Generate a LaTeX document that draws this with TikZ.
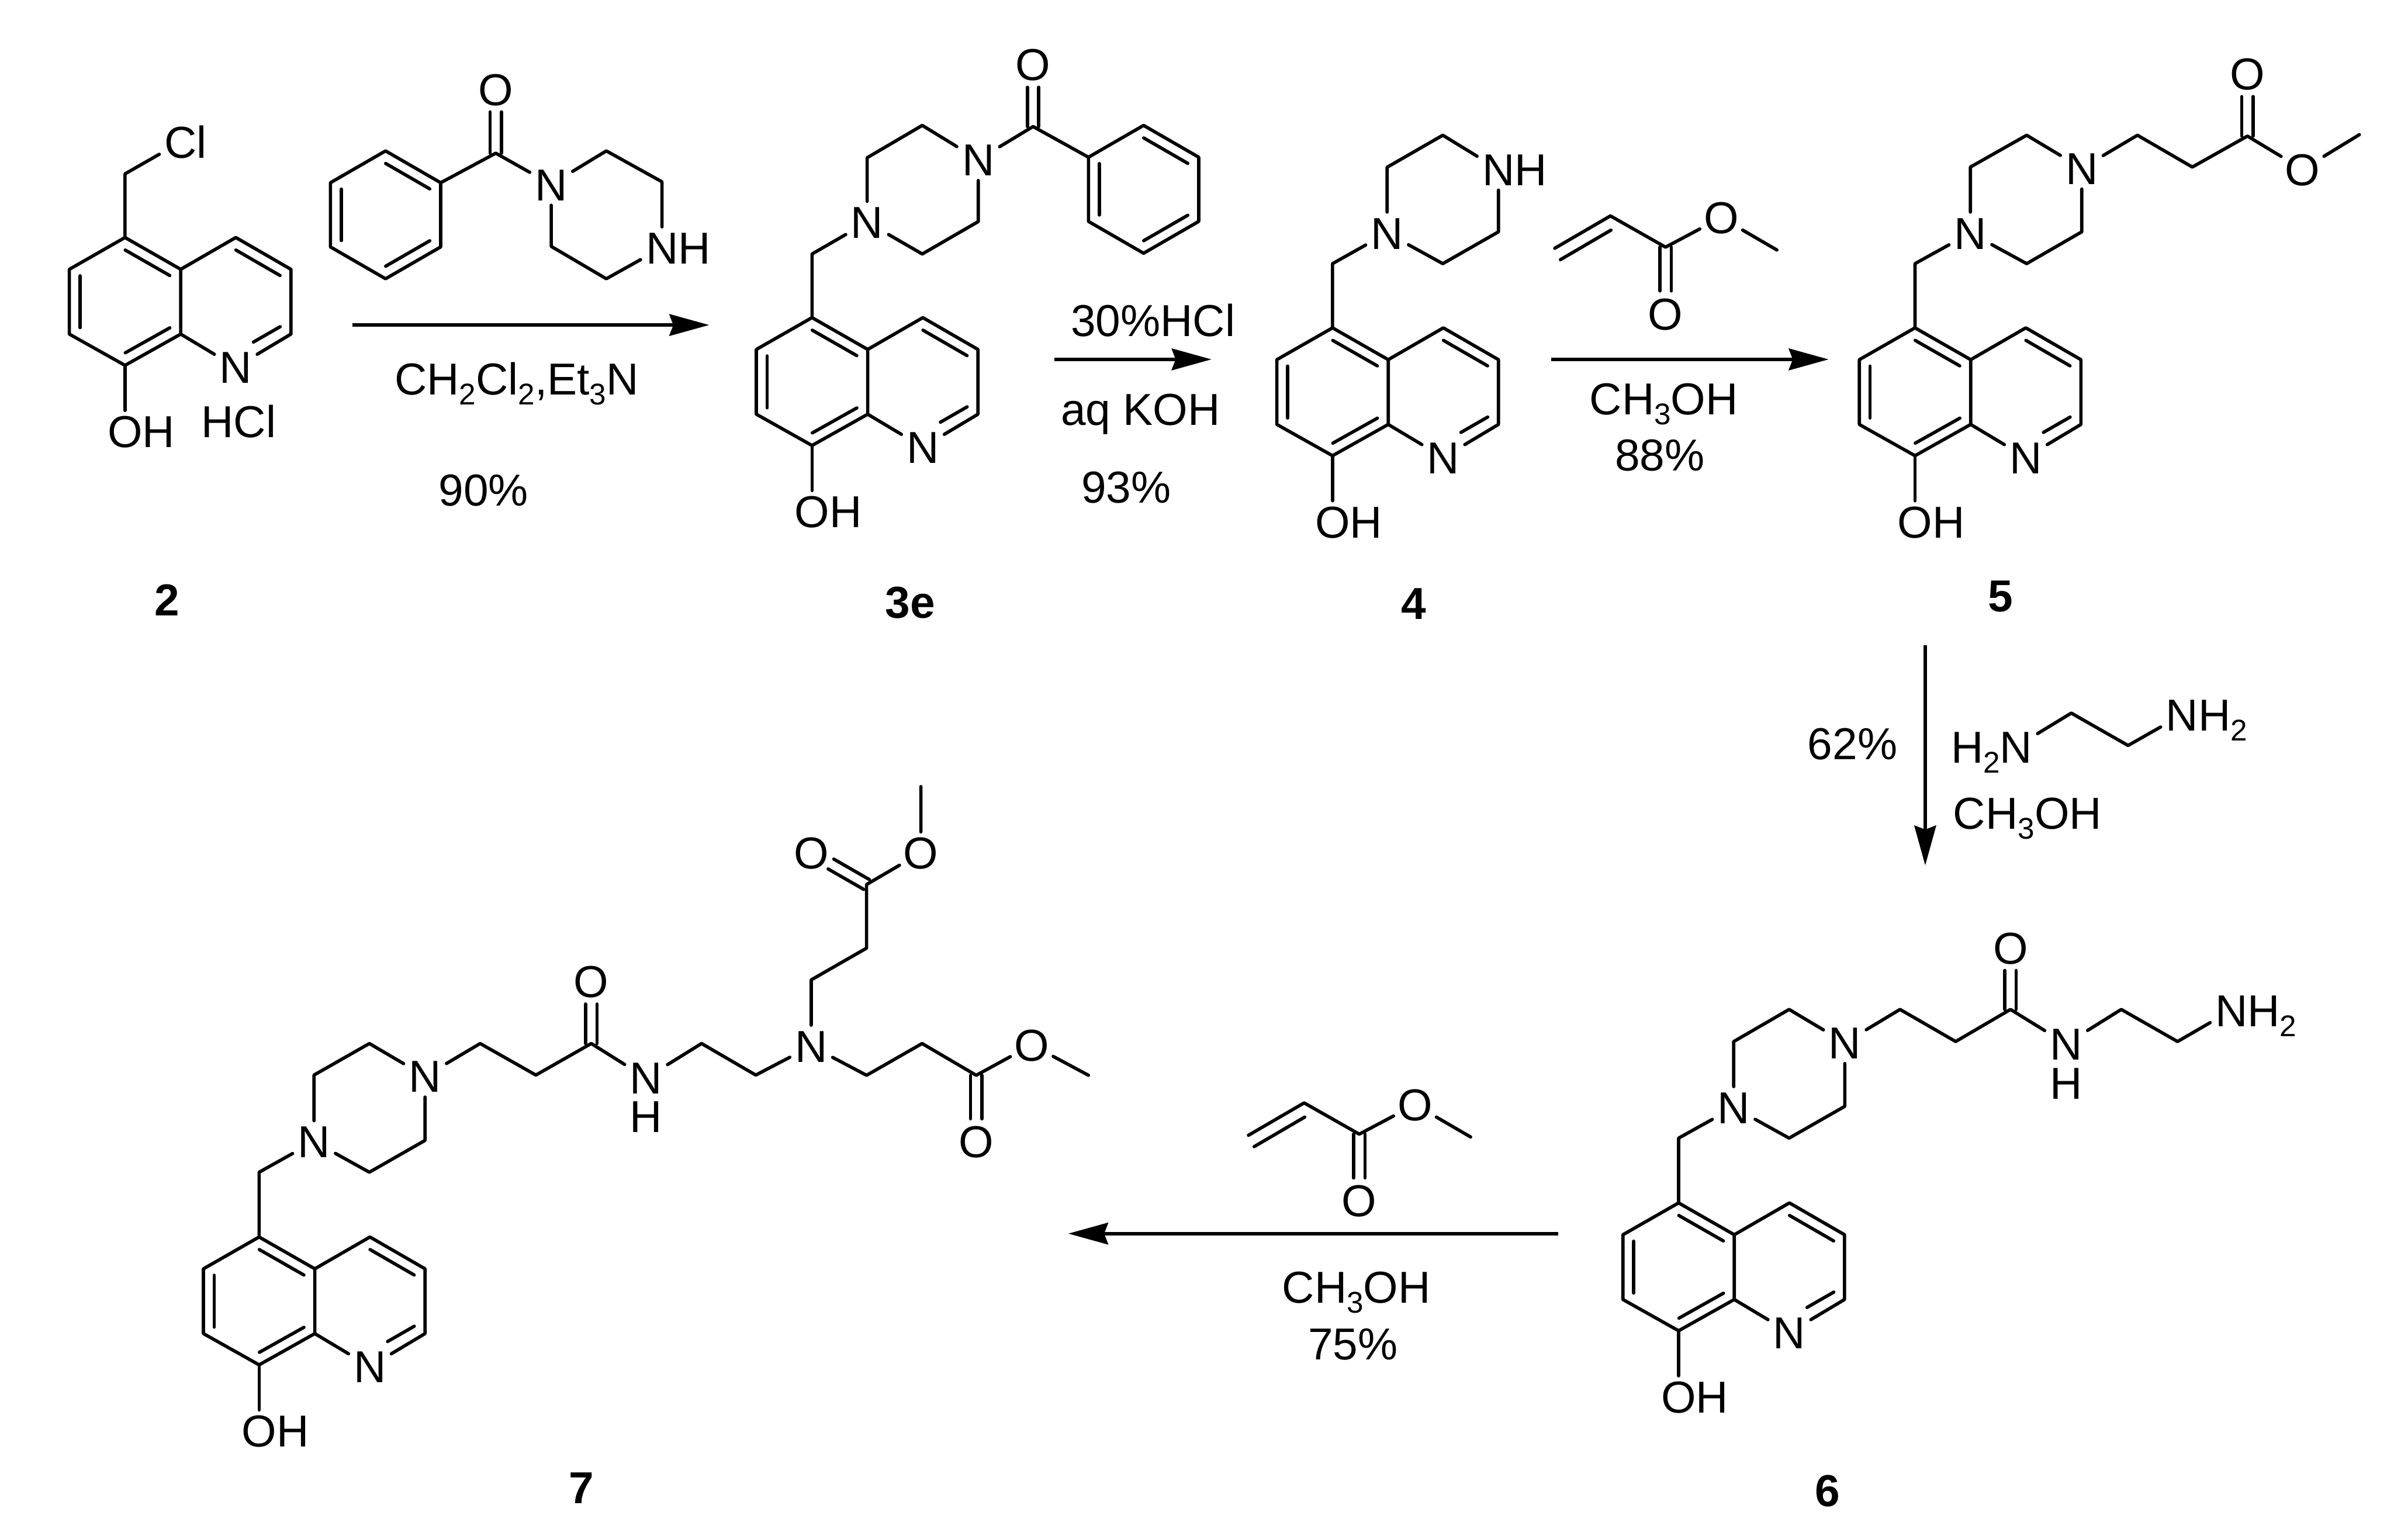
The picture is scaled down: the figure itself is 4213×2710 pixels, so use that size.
\documentclass[tikz,border=0pt]{standalone}
\usepackage{fontspec}
\setmainfont{Liberation Sans}
\usetikzlibrary{calc,arrows.meta}
\newsavebox\atbox
\newcommand\atr[2]{\sbox\atbox{#1}\makebox[0pt][l]{\hspace{-.5\wd\atbox}\usebox\atbox #2}}
\newcommand\atl[2]{\sbox\atbox{#2}\makebox[0pt][r]{#1\usebox\atbox\hspace{-.5\wd\atbox}}}
\newcommand\atd[3]{\makebox[0pt][c]{#1}\makebox[0pt][c]{\raisebox{-#3}{#2}}}
\newcommand\sbs[1]{\raisebox{-5pt}{\fontsize{15pt}{16pt}\selectfont #1}}
\tikzset{
  bond/.style={line width=.058cm,line join=round,line cap=round,black},
  rxn/.style={line width=.058cm,black,-{Stealth[length=.7cm,width=.38cm,inset=.07cm]}},
  atom/.style={rectangle,inner sep=0pt,minimum width=.74cm,minimum height=.72cm,
     text height=16.1pt,text depth=0pt,font=\fontsize{22.4pt}{25pt}\selectfont},
  txt/.style={inner sep=0pt,anchor=base,font=\fontsize{22.4pt}{25pt}\selectfont},
  lbl/.style={inner sep=0pt,anchor=base,font=\fontsize{22.4pt}{25pt}\selectfont\bfseries},
}
\newcommand\inb[2]{\draw[bond] ($(#1)!.1!(#2)!.19cm!-90:(#2)$) -- ($(#2)!.1!(#1)!.19cm!90:(#1)$);}
\newcommand\dbo[2]{%
  \draw[bond] ($(#1)!.1cm!90:(#2)$) -- ($(#2)!.4cm!(#1)!.1cm!-90:(#1)$);
  \draw[bond] ($(#1)!.1cm!-90:(#2)$) -- ($(#2)!.4cm!(#1)!.1cm!90:(#1)$);}
\newcommand\quin[3]{%
  \begin{scope}[shift={(#2,#3)}]
    \coordinate (#1c5) at (0,0);
    \coordinate (#1lt) at (-98,56);
    \coordinate (#1lb) at (-98,170);
    \coordinate (#1c8) at (0,225);
    \coordinate (#1jt) at (98,56);
    \coordinate (#1jb) at (98,170);
    \coordinate (#1c4) at (195,0);
    \coordinate (#1rt) at (292,56);
    \coordinate (#1rb) at (292,170);
    \coordinate (#1i1) at (273,157);
    \coordinate (#1i2) at (226,184);
    \node[atom] (#1n) at (195,228) {N};
    \node[atom] (#1oh) at (0,341) {\atr{O}{H}};
    \draw[bond] (#1c5) -- (#1lt) -- (#1lb) -- (#1c8) -- (#1jb) -- (#1jt) -- cycle;
    \draw[bond] (#1jt) -- (#1c4) -- (#1rt) -- (#1rb) -- (#1n) -- (#1jb);
    \draw[bond] (#1c8) -- (#1oh);
    \draw[bond] (#1i1) -- (#1i2);
  \end{scope}
  \inb{#1c5}{#1jt}\inb{#1lb}{#1lt}\inb{#1jb}{#1c8}\inb{#1c4}{#1rt}}
\newcommand\benz[3]{%
  \begin{scope}[shift={(#2,#3)}]
    \coordinate (#1t) at (0,0);
    \coordinate (#1ur) at (97,56);
    \coordinate (#1lr) at (97,169);
    \coordinate (#1b) at (0,225);
    \coordinate (#1ll) at (-97,169);
    \coordinate (#1ul) at (-97,56);
    \draw[bond] (#1t) -- (#1ur) -- (#1lr) -- (#1b) -- (#1ll) -- (#1ul) -- cycle;
  \end{scope}
  \inb{#1t}{#1ur}\inb{#1lr}{#1b}\inb{#1ll}{#1ul}}
\newcommand\acry[3]{%
  \begin{scope}[shift={(#2,#3)}]
    \coordinate (#1v) at (0,0);
    \coordinate (#1e) at (-98,57);
    \coordinate (#1i1) at (-88,77);
    \coordinate (#1i2) at (1,25);
    \coordinate (#1c) at (97,55);
    \node[atom] (#1o) at (195,3) {O};
    \coordinate (#1m) at (293,60);
    \node[atom] (#1oo) at (97,172) {O};
    \draw[bond] (#1e) -- (#1v) -- (#1c) -- (#1o) -- (#1m);
    \draw[bond] (#1i1) -- (#1i2);
  \end{scope}
  \dbo{#1c}{#1oo}}
\begin{document}
\begin{tikzpicture}[x=.01cm,y=-.01cm]
\path[use as bounding box,fill=white] (0,0) rectangle (4213,2710);

% --- compound 2
\quin{a}{220}{418}
\coordinate (ach) at (220,306);
\node[atom] (acl) at (318,250) {\atr{C}{l}};
\draw[bond] (ac5) -- (ach) -- (acl);
\node[txt] (ahcl) at (420,770) {HCl};
\node[lbl] (l2) at (294,1084) {2};

% --- benzoylpiperazine
\benz{r}{678.5}{265.6}
\coordinate (rc) at (872.5,269.6);
\node[atom] (ro) at (872.5,157) {O};
\node[atom] (rn) at (970,324.5) {N};
\coordinate (rp1) at (1067,265.6);
\coordinate (rp2) at (1165,320);
\node[atom] (rnh) at (1165,436) {\atr{N}{H}};
\coordinate (rp3) at (1067,490.6);
\coordinate (rp4) at (970,433.6);
\draw[bond] (rur) -- (rc) -- (rn) -- (rp1) -- (rp2) -- (rnh) -- (rp3) -- (rp4) -- (rn);
\dbo{rc}{ro}

% --- arrow 1
\coordinate (a1s) at (620,572);
\coordinate (a1e) at (1248,572);
\draw[rxn] (a1s) -- (a1e);
\node[txt] (t1) at (909,695) {CH\sbs{2}Cl\sbs{2},Et\sbs{3}N};
\node[txt] (t2) at (851,890) {90\%};

% --- compound 3e
\quin{b}{1429}{559}
\coordinate (bch) at (1429,447);
\node[atom] (bn1) at (1526,391) {N};
\coordinate (bp1) at (1526,277.6);
\coordinate (bp2) at (1623,220.7);
\node[atom] (bn2) at (1721.5,281) {N};
\coordinate (bp3) at (1721.5,390);
\coordinate (bp4) at (1623,447);
\coordinate (bc) at (1818,222.7);
\node[atom] (bo) at (1818,113.6) {O};
\benz{s}{2012.5}{220.7}
\draw[bond] (bc5) -- (bch) -- (bn1) -- (bp1) -- (bp2) -- (bn2) -- (bp3) -- (bp4) -- (bn1);
\draw[bond] (bn2) -- (bc) -- (sul);
\dbo{bc}{bo}
\node[lbl] (l3) at (1602,1088) {3e};

% --- arrow 2
\coordinate (a2s) at (1856,632.5);
\coordinate (a2e) at (2132,632.5);
\draw[rxn] (a2s) -- (a2e);
\node[txt] (t3) at (2029,592) {30\%HCl};
\node[txt] (t4) at (2007,748) {aq KOH};
\node[txt] (t5) at (1982,885) {93\%};

% --- compound 4
\quin{c}{2345}{577}
\coordinate (cch) at (2345,464);
\node[atom] (cn1) at (2441,410) {N};
\coordinate (cp1) at (2441,294.4);
\coordinate (cp2) at (2539,238);
\node[atom] (cnh) at (2637,298) {\atr{N}{H}};
\coordinate (cp3) at (2637,408);
\coordinate (cp4) at (2539,464);
\draw[bond] (cc5) -- (cch) -- (cn1) -- (cp1) -- (cp2) -- (cnh) -- (cp3) -- (cp4) -- (cn1);
\node[lbl] (l4) at (2488,1090) {4};

% --- methyl acrylate 1 and arrow 3
\acry{d}{2834}{380}
\coordinate (a3s) at (2730,632.5);
\coordinate (a3e) at (3218,632.5);
\draw[rxn] (a3s) -- (a3e);
\node[txt] (t6) at (2928,730) {CH\sbs{3}OH};
\node[txt] (t7) at (2921,828) {88\%};

% --- compound 5
\quin{e}{3370}{577}
\coordinate (ech) at (3370,464);
\node[atom] (en1) at (3467.5,410) {N};
\coordinate (ep1) at (3467.5,294);
\coordinate (ep2) at (3566.5,238);
\node[atom] (en2) at (3663.5,296) {N};
\coordinate (ep3) at (3663.5,408);
\coordinate (ep4) at (3566.5,464);
\coordinate (eq1) at (3761.5,238);
\coordinate (eq2) at (3858,294);
\coordinate (ec) at (3955,239.5);
\node[atom] (eo) at (3955,130) {O};
\node[atom] (eoe) at (4052,298) {O};
\coordinate (em) at (4152,237);
\draw[bond] (ec5) -- (ech) -- (en1) -- (ep1) -- (ep2) -- (en2) -- (ep3) -- (ep4) -- (en1);
\draw[bond] (en2) -- (eq1) -- (eq2) -- (ec) -- (eoe) -- (em);
\dbo{ec}{eo}
\node[lbl] (l5) at (3521,1076) {5};

% --- arrow 4
\coordinate (a4s) at (3388,1136);
\coordinate (a4e) at (3388,1523);
\draw[rxn] (a4s) -- (a4e);
\node[txt] (t8) at (3260,1337) {62\%};
\node[atom] (fn1) at (3548,1314) {\atl{H\sbs{2}}{N}};
\coordinate (fb1) at (3645,1255);
\coordinate (fb2) at (3745,1312);
\node[atom] (fn2) at (3840,1258) {\atr{N}{H\sbs{2}}};
\draw[bond] (fn1) -- (fb1) -- (fb2) -- (fn2);
\node[txt] (t9) at (3568,1459) {CH\sbs{3}OH};

% --- compound 6
\quin{g}{2954}{2117}
\coordinate (gch) at (2954,2003);
\node[atom] (gn1) at (3051,1949) {N};
\coordinate (gp1) at (3051,1833);
\coordinate (gp2) at (3148.5,1776.5);
\node[atom] (gn2) at (3246.5,1835) {N};
\coordinate (gp3) at (3246.5,1947);
\coordinate (gp4) at (3148.5,2003);
\coordinate (gq1) at (3343.6,1776.5);
\coordinate (gq2) at (3441.6,1833);
\coordinate (gc) at (3538,1776.5);
\node[atom] (go) at (3538,1668) {O};
\node[atom] (gn3) at (3636,1837) {\atd{N}{H}{.69cm}};
\coordinate (gq3) at (3733,1776.5);
\coordinate (gq4) at (3832,1833);
\node[atom] (gn4) at (3927,1778) {\atr{N}{H\sbs{2}}};
\draw[bond] (gc5) -- (gch) -- (gn1) -- (gp1) -- (gp2) -- (gn2) -- (gp3) -- (gp4) -- (gn1);
\draw[bond] (gn2) -- (gq1) -- (gq2) -- (gc) -- (gn3) -- (gq3) -- (gq4) -- (gn4);
\dbo{gc}{go}
\node[lbl] (l6) at (3216,2651) {6};

% --- methyl acrylate 2 and arrow 5
\acry{h}{2295}{1941}
\coordinate (a5s) at (2742.5,2171);
\coordinate (a5e) at (1880,2171);
\draw[rxn] (a5s) -- (a5e);
\node[txt] (t10) at (2387,2293) {CH\sbs{3}OH};
\node[txt] (t11) at (2381,2393) {75\%};

% --- compound 7
\quin{k}{456}{2177}
\coordinate (kch) at (456,2063);
\node[atom] (kn1) at (552.6,2009) {N};
\coordinate (kp1) at (552.6,1892);
\coordinate (kp2) at (650,1836.5);
\node[atom] (kn2) at (748,1894) {N};
\coordinate (kp3) at (748,2007);
\coordinate (kp4) at (650,2063);
\coordinate (kq1) at (845,1836.5);
\coordinate (kq2) at (943,1892);
\coordinate (kc) at (1040.5,1836.5);
\node[atom] (ko) at (1040.5,1727) {O};
\node[atom] (kn3) at (1137,1897) {\atd{N}{H}{.67cm}};
\coordinate (kq3) at (1234.6,1836.5);
\coordinate (kq4) at (1330,1892);
\node[atom] (kn4) at (1427.6,1841) {N};
\coordinate (ku1) at (1427.6,1724.5);
\coordinate (ku2) at (1525,1668.6);
\coordinate (ku3) at (1525,1556.6);
\node[atom] (kuo) at (1427.6,1500.7) {O};
\node[atom] (kue) at (1620.6,1500.7) {O};
\coordinate (kum) at (1620.6,1384.4);
\coordinate (kv1) at (1525,1892.4);
\coordinate (kv2) at (1622.7,1836.5);
\coordinate (kv3) at (1718,1892.4);
\node[atom] (kve) at (1815.7,1839) {O};
\coordinate (kvm) at (1915.5,1892.4);
\node[atom] (kvo) at (1718,2009) {O};
\draw[bond] (kc5) -- (kch) -- (kn1) -- (kp1) -- (kp2) -- (kn2) -- (kp3) -- (kp4) -- (kn1);
\draw[bond] (kn2) -- (kq1) -- (kq2) -- (kc) -- (kn3) -- (kq3) -- (kq4) -- (kn4);
\draw[bond] (kn4) -- (ku1) -- (ku2) -- (ku3) -- (kue) -- (kum);
\draw[bond] (kn4) -- (kv1) -- (kv2) -- (kv3) -- (kve) -- (kvm);
\dbo{kc}{ko}
\dbo{ku3}{kuo}
\dbo{kv3}{kvo}
\node[lbl] (l7) at (1023,2646) {7};
\end{tikzpicture}
\end{document}
